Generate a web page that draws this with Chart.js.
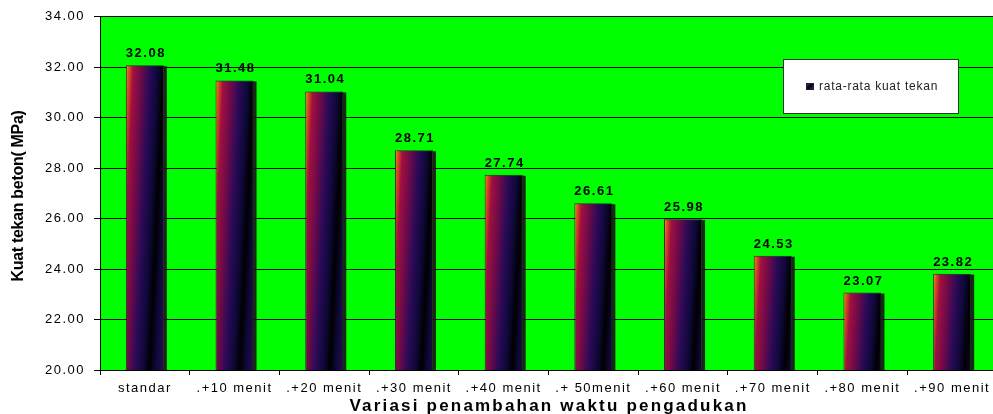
<!DOCTYPE html>
<html>
<head>
<meta charset="utf-8">
<script src="https://cdn.jsdelivr.net/npm/chart.js@4.4.1/dist/chart.umd.min.js"></script>
<style>
  html, body { margin: 0; padding: 0; background: #ffffff; overflow: hidden; }
  canvas { display: block; }
</style>
</head>
<body>
<canvas id="chart" width="1000" height="414"></canvas>
<script>
// Compressive strength per mixing-time variation
const categories = ['standar', '.+10 menit', '.+20 menit', '.+30 menit', '.+40 menit',
                    '.+ 50menit', '.+60 menit', '.+70 menit', '.+80 menit', '.+90 menit'];
const strengthValues = [32.08, 31.48, 31.04, 28.71, 27.74, 26.61, 25.98, 24.53, 23.07, 23.82];
const yTickValues = [20, 22, 24, 26, 28, 30, 32, 34];
const seriesLabel = 'rata-rata kuat tekan';
const xAxisTitle = 'Variasi penambahan waktu pengadukan';
const yAxisTitle = 'Kuat tekan beton( MPa)';

const FONT = "'Liberation Sans', Arial, sans-serif";

// Diagonal "flame" fill: orange corners, crimson, navy, black along the anti-diagonal
const GRADIENT_STOPS = [
  [0.00, '#ff9c1c'], [0.04, '#e0501e'], [0.10, '#a01040'], [0.20, '#720a48'],
  [0.31, '#2c0a58'], [0.42, '#0e0838'], [0.50, '#000000'],
  [0.58, '#0e0838'], [0.69, '#2c0a58'], [0.80, '#720a48'], [0.90, '#a01040'],
  [0.96, '#e0501e'], [1.00, '#ff9c1c']
];

function diagonalGradient(ctx, left, top, right, bottom) {
  const w = right - left, h = bottom - top;
  const k = 2 * w * h / (w * w + h * h);
  const g = ctx.createLinearGradient(left, top, left + h * k, top + w * k);
  GRADIENT_STOPS.forEach(([t, c]) => g.addColorStop(t, c));
  return g;
}

const plotBackground = {
  id: 'plotBackground',
  beforeDraw(chart) {
    const { ctx, chartArea: a } = chart;
    ctx.save();
    ctx.fillStyle = '#00ff00';
    ctx.fillRect(a.left, a.top, a.right - a.left, a.bottom - a.top);
    ctx.restore();
    ctx.letterSpacing = '1.5px';
  }
};

const barStyling = {
  id: 'barStyling',
  beforeDatasetsDraw(chart) {
    const { ctx, chartArea: a } = chart;
    const meta = chart.getDatasetMeta(0);
    ctx.save();
    ctx.beginPath();
    ctx.rect(a.left, a.top, a.right - a.left, a.bottom - a.top);
    ctx.clip();
    meta.data.forEach(bar => {
      const left = bar.x - bar.width / 2, right = bar.x + bar.width / 2;
      const top = Math.min(bar.y, bar.base), bottom = Math.max(bar.y, bar.base);
      // drop shadow on the right side
      ctx.fillStyle = 'rgba(20,20,20,0.9)';
      ctx.fillRect(left + 3, top + 1, right - left, bottom - top);
      bar.options.backgroundColor = diagonalGradient(ctx, left, top, right, bottom);
    });
    ctx.restore();
  }
};

const annotations = {
  id: 'annotations',
  afterDraw(chart) {
    const { ctx } = chart;
    const meta = chart.getDatasetMeta(0);
    const data = chart.data.datasets[0].data;

    // value labels above bars
    ctx.save();
    ctx.letterSpacing = '1.5px';
    ctx.fillStyle = '#000';
    ctx.font = `bold 13px ${FONT}`;
    ctx.textAlign = 'center';
    ctx.textBaseline = 'alphabetic';
    meta.data.forEach((bar, i) => {
      ctx.fillText(data[i].toFixed(2), bar.x + 1, bar.y - 8);
    });
    ctx.restore();

    // x axis title
    ctx.save();
    ctx.letterSpacing = '2.2px';
    ctx.fillStyle = '#000';
    ctx.font = `bold 17px ${FONT}`;
    ctx.textAlign = 'center';
    ctx.textBaseline = 'alphabetic';
    ctx.fillText(xAxisTitle, 549, 411);
    ctx.restore();

    // y axis title
    ctx.save();
    ctx.letterSpacing = '-0.3px';
    ctx.fillStyle = '#000';
    ctx.font = `bold 16px ${FONT}`;
    ctx.translate(19, 196);
    ctx.rotate(-Math.PI / 2);
    ctx.textAlign = 'center';
    ctx.textBaseline = 'middle';
    ctx.fillText(yAxisTitle, 0, 0);
    ctx.restore();

    // legend box
    ctx.save();
    ctx.letterSpacing = '0.75px';
    ctx.fillStyle = '#ffffff';
    ctx.fillRect(783.5, 59.5, 175, 54);
    ctx.strokeStyle = '#333333';
    ctx.lineWidth = 1;
    ctx.strokeRect(783.5, 59.5, 175, 54);
    ctx.fillStyle = diagonalGradient(ctx, 806, 83, 814, 90);
    ctx.fillRect(806, 83, 8, 7);
    ctx.strokeStyle = '#222';
    ctx.strokeRect(806.5, 83.5, 7, 6);
    ctx.fillStyle = '#222';
    ctx.font = `12px ${FONT}`;
    ctx.textAlign = 'left';
    ctx.textBaseline = 'middle';
    ctx.fillText(chart.data.datasets[0].label, 819, 87);
    ctx.restore();
  }
};

new Chart(document.getElementById('chart'), {
  type: 'bar',
  data: {
    labels: categories,
    datasets: [{
      label: seriesLabel,
      data: strengthValues,
      backgroundColor: () => '#1a0a45',
      borderColor: '#2a2a2a',
      borderWidth: 1,
      borderSkipped: false,
      barPercentage: 0.424,
      categoryPercentage: 1
    }]
  },
  options: {
    responsive: false,
    animation: false,
    events: [],
    layout: { padding: { top: 16, right: 3, left: 0, bottom: 0 } },
    plugins: { legend: { display: false }, tooltip: { enabled: false } },
    scales: {
      x: {
        offset: true,
        grid: { offset: true, drawOnChartArea: false, drawTicks: true, tickLength: 5, color: '#000', lineWidth: 1 },
        border: { color: '#000', width: 1 },
        ticks: { font: { size: 13, family: FONT }, color: '#000', padding: 6, maxRotation: 0, autoSkip: false },
        afterFit(scale) { scale.height = 44; }
      },
      y: {
        min: 20,
        max: 34,
        afterBuildTicks(scale) { scale.ticks = yTickValues.map(v => ({ value: v })); },
        grid: { color: '#000', lineWidth: 1, drawTicks: true, tickLength: 6 },
        border: { color: '#000', width: 1 },
        ticks: {
          callback: v => Number(v).toFixed(2),
          font: { size: 13, family: FONT }, color: '#000', padding: 9
        },
        afterFit(scale) { scale.width = 100; }
      }
    }
  },
  plugins: [plotBackground, barStyling, annotations]
});
</script>
</body>
</html>
